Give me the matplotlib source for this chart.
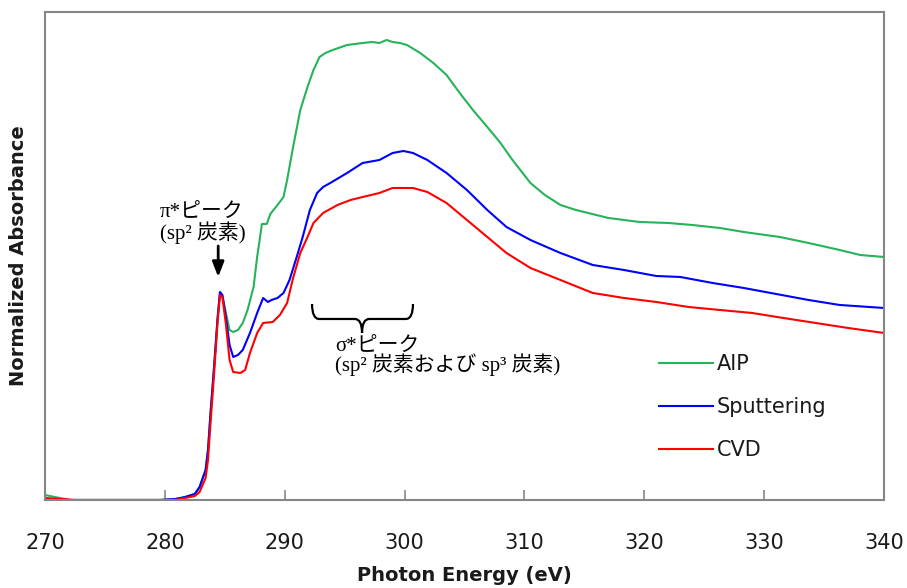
import matplotlib
matplotlib.use("Agg")
import matplotlib.pyplot as plt
from matplotlib.path import Path
from matplotlib.patches import PathPatch

# NEXAFS C K-edge spectra (arbitrary units)
aip_energy = [270.0, 270.8, 272.1, 279.6, 280.9, 281.7, 282.5, 282.9, 283.4, 283.6,
              283.8, 284.1, 284.4, 284.6, 284.8, 285.1, 285.4, 285.7, 286.1, 286.5,
              286.9, 287.4, 287.7, 288.1, 288.5, 288.8, 289.4, 289.9, 290.2, 290.7,
              291.3, 291.9, 292.4, 292.9, 293.4, 294.0, 295.2, 296.5, 297.3, 297.9,
              298.5, 299.0, 299.6, 300.2, 301.3, 302.4, 303.5, 304.6, 305.7, 306.9,
              308.0, 309.0, 310.5, 311.7, 313.0, 314.3, 317.0, 319.6, 322.0, 324.0,
              326.3, 328.3, 331.3, 333.7, 336.3, 338.0, 340.0]
aip_abs = [0.05, 0.03, 0.0, 0.0, 0.01, 0.03, 0.06, 0.13, 0.30, 0.50,
           0.85, 1.32, 1.82, 2.07, 2.04, 1.87, 1.70, 1.68, 1.70, 1.77,
           1.90, 2.13, 2.43, 2.76, 2.76, 2.86, 2.95, 3.03, 3.20, 3.53,
           3.90, 4.13, 4.30, 4.43, 4.47, 4.50, 4.55, 4.57, 4.58, 4.57,
           4.60, 4.58, 4.57, 4.55, 4.47, 4.37, 4.25, 4.07, 3.90, 3.73,
           3.57, 3.40, 3.17, 3.05, 2.95, 2.90, 2.82, 2.78, 2.77, 2.75,
           2.72, 2.68, 2.63, 2.57, 2.50, 2.45, 2.43]

sput_energy = [270.0, 272.1, 279.6, 280.9, 281.7, 282.5, 282.9, 283.4, 283.6, 283.8,
               284.1, 284.4, 284.6, 284.8, 285.1, 285.4, 285.7, 286.1, 286.5, 287.1,
               287.7, 288.2, 288.6, 288.9, 289.4, 289.9, 290.4, 291.0, 291.5, 292.1,
               292.7, 293.2, 293.8, 295.2, 296.5, 297.9, 299.0, 299.9, 300.7, 301.9,
               303.5, 305.2, 306.9, 308.5, 310.5, 313.0, 315.7, 318.3, 321.0, 323.0,
               325.7, 328.3, 331.0, 333.7, 336.3, 340.0]
sput_abs = [0.01, 0.0, 0.0, 0.01, 0.03, 0.06, 0.13, 0.30, 0.50, 0.85,
            1.32, 1.82, 2.08, 2.05, 1.82, 1.55, 1.43, 1.45, 1.50, 1.67,
            1.87, 2.02, 1.98, 2.00, 2.02, 2.07, 2.20, 2.43, 2.63, 2.90,
            3.07, 3.13, 3.17, 3.27, 3.37, 3.40, 3.47, 3.49, 3.47, 3.40,
            3.27, 3.10, 2.90, 2.73, 2.60, 2.47, 2.35, 2.30, 2.24, 2.23,
            2.17, 2.12, 2.06, 2.00, 1.95, 1.92]

cvd_energy = [270.0, 271.3, 272.5, 279.6, 280.9, 281.7, 282.5, 282.9, 283.4, 283.6,
              283.8, 284.1, 284.4, 284.6, 284.8, 285.1, 285.4, 285.7, 286.3, 286.7,
              287.1, 287.7, 288.2, 289.0, 289.6, 290.2, 290.7, 291.3, 291.9, 292.4,
              293.2, 294.4, 295.5, 296.5, 297.9, 299.0, 300.7, 301.9, 303.5, 305.2,
              306.9, 308.5, 310.5, 313.0, 315.7, 318.3, 321.0, 323.7, 326.3, 329.0,
              331.6, 334.3, 337.0, 340.0]
cvd_abs = [0.02, 0.01, 0.0, 0.0, 0.0, 0.02, 0.04, 0.08, 0.22, 0.40,
           0.75, 1.25, 1.78, 2.05, 2.03, 1.75, 1.40, 1.28, 1.27, 1.30,
           1.47, 1.67, 1.77, 1.78, 1.85, 1.97, 2.22, 2.47, 2.63, 2.77,
           2.87, 2.95, 3.00, 3.03, 3.07, 3.12, 3.12, 3.08, 2.97, 2.80,
           2.63, 2.47, 2.32, 2.20, 2.07, 2.02, 1.98, 1.93, 1.90, 1.87,
           1.82, 1.77, 1.72, 1.67]

labels = ["AIP", "Sputtering", "CVD"]
colors = ["#26b35a", "#0000ff", "#ff0000"]
xticks = [270, 280, 290, 300, 310, 320, 330, 340]

jp_font = ["Liberation Serif", "Noto Sans CJK JP"]

fig = plt.figure(figsize=(9.07, 5.88), dpi=100)
ax = fig.add_axes([0.0496, 0.1497, 0.9251, 0.8299])

for e, a, lab, c in zip([aip_energy, sput_energy, cvd_energy],
                        [aip_abs, sput_abs, cvd_abs], labels, colors):
    ax.plot(e, a, color=c, lw=1.5, label=lab)

ax.set_xlim(270, 340)
ax.set_ylim(0, 4.88)
ax.set_xticks(xticks)
ax.set_yticks([])
ax.tick_params(axis="x", direction="in", length=7, width=1.2, color="#868686",
               pad=24, labelsize=15, labelcolor="#1a1a1a")
for s in ax.spines.values():
    s.set_color("#868686")
    s.set_linewidth(1.5)

ax.set_xlabel("Photon Energy (eV)", fontsize=14, fontweight="bold",
              color="#1a1a1a", labelpad=9)
ax.set_ylabel("Normalized Absorbance", fontsize=14, fontweight="bold",
              color="#1a1a1a", labelpad=12)

leg = ax.legend(loc="upper left", bbox_to_anchor=(0.732, 0.299), frameon=False,
                fontsize=15, handlelength=2.6, handletextpad=0.15,
                labelspacing=1.1, borderpad=0, borderaxespad=0)
for t in leg.get_texts():
    t.set_color("#1a1a1a")

# pi* annotation with arrow
ax.text(279.6, 2.76, "π*ピーク\n(sp² 炭素)", family=jp_font, fontsize=15,
        ha="left", va="center", linespacing=0.95)
ax.annotate("", xy=(284.45, 2.23), xytext=(284.45, 2.54),
            arrowprops=dict(arrowstyle="-|>,head_width=0.35,head_length=0.9",
                            color="black", lw=2, shrinkA=0, shrinkB=0))

# sigma* brace and annotation
bx0, bx1, bxc = 292.28, 300.70, 296.45
by_top, by_mid, by_tip = 1.96, 1.81, 1.67
curl = 0.6
verts = [(bx0, by_top), (bx0, by_mid), (bx0 + curl, by_mid),
         (bxc - curl, by_mid), (bxc, by_mid), (bxc, by_tip),
         (bxc, by_tip), (bxc, by_mid), (bxc + curl, by_mid),
         (bx1 - curl, by_mid), (bx1, by_mid), (bx1, by_top)]
codes = [Path.MOVETO, Path.CURVE3, Path.CURVE3,
         Path.LINETO, Path.CURVE3, Path.CURVE3,
         Path.MOVETO, Path.CURVE3, Path.CURVE3,
         Path.LINETO, Path.CURVE3, Path.CURVE3]
ax.add_patch(PathPatch(Path(verts, codes), fill=False, lw=1.6, color="black"))

ax.text(294.2, 1.43, "σ*ピーク\n(sp² 炭素および sp³ 炭素)", family=jp_font,
        fontsize=15, ha="left", va="center", linespacing=0.85)

fig.savefig("out.png", dpi=100)
